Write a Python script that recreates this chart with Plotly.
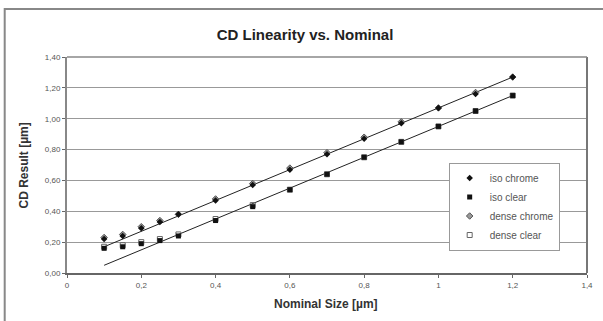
import plotly.graph_objects as go

nominal = [0.1, 0.15, 0.2, 0.25, 0.3, 0.4, 0.5, 0.6, 0.7, 0.8, 0.9, 1.0, 1.1, 1.2]
iso_chrome = [0.22, 0.24, 0.29, 0.33, 0.38, 0.47, 0.57, 0.67, 0.77, 0.87, 0.97, 1.07, 1.16, 1.27]
iso_clear = [0.16, 0.17, 0.19, 0.21, 0.24, 0.34, 0.43, 0.54, 0.64, 0.75, 0.85, 0.95, 1.05, 1.15]
dense_chrome = [0.23, 0.25, 0.30, 0.34, 0.38, 0.48, 0.58, 0.68, 0.78, 0.88, 0.98, 1.07, 1.17, 1.27]
dense_clear = [0.17, 0.18, 0.20, 0.22, 0.25, 0.35, 0.44, 0.54, 0.64, 0.75, 0.85, 0.95, 1.05, 1.15]
trend_x = [0.1, 1.2]
chrome_trend = [0.17, 1.27]
clear_trend = [0.05, 1.15]
x_ticks = [0, 0.2, 0.4, 0.6, 0.8, 1.0, 1.2, 1.4]
x_tick_labels = ["0", "0,2", "0,4", "0,6", "0,8", "1", "1,2", "1,4"]

font_family = "Liberation Sans, Arial, sans-serif"
fig = go.Figure()

fig.add_trace(go.Scatter(x=trend_x, y=chrome_trend, mode="lines", line=dict(color="#222", width=1), showlegend=False, hoverinfo="skip"))
fig.add_trace(go.Scatter(x=trend_x, y=clear_trend, mode="lines", line=dict(color="#222", width=1), showlegend=False, hoverinfo="skip"))

fig.add_trace(go.Scatter(x=nominal, y=dense_chrome, mode="markers", name="dense chrome", legendrank=3,
                         marker=dict(symbol="diamond", size=5, color="#999", line=dict(color="#555", width=1))))
fig.add_trace(go.Scatter(x=nominal, y=dense_clear, mode="markers", name="dense clear", legendrank=4,
                         marker=dict(symbol="square-open", size=5, color="#666", line=dict(width=1))))
fig.add_trace(go.Scatter(x=nominal, y=iso_chrome, mode="markers", name="iso chrome", legendrank=1,
                         marker=dict(symbol="diamond", size=5, color="#111")))
fig.add_trace(go.Scatter(x=nominal, y=iso_clear, mode="markers", name="iso clear", legendrank=2,
                         marker=dict(symbol="square", size=5, color="#111")))

fig.update_layout(
    width=603, height=321,
    margin=dict(l=67, r=10, t=57, b=48),
    paper_bgcolor="white", plot_bgcolor="white",
    separators=",.",
    font=dict(family=font_family, size=8, color="#555"),
    title=dict(text="<b>CD Linearity vs. Nominal</b>", x=305 / 603, xref="container", xanchor="center",
               y=1 - 35 / 321, yref="container", yanchor="middle",
               font=dict(size=15, color="#222", family=font_family)),
    showlegend=True,
    legend=dict(x=0.734, y=(273 - 206.5) / 216, xanchor="left", yanchor="middle", bgcolor="white",
                bordercolor="#999", borderwidth=1, font=dict(size=10, color="#555"),
                traceorder="normal", tracegroupgap=0, itemwidth=30),
    xaxis=dict(range=[0, 1.4], tickvals=x_ticks, ticktext=x_tick_labels, showgrid=False,
               showline=True, linecolor="#666", linewidth=2, ticks="outside", ticklen=3,
               tickcolor="#666", mirror=False, zeroline=False, fixedrange=True),
    yaxis=dict(range=[0, 1.4], dtick=0.2, tickformat=".2f", showgrid=True, gridcolor="#999",
               gridwidth=1, showline=True, linecolor="#888", linewidth=2, ticks="outside",
               ticklen=3, tickcolor="#666", zeroline=False, fixedrange=True),
)

# plot frame right/top
fig.add_shape(type="line", xref="paper", yref="paper", x0=1, x1=1, y0=0, y1=1, line=dict(color="#777", width=2))
fig.add_shape(type="line", xref="paper", yref="paper", x0=0, x1=1, y0=1, y1=1, line=dict(color="#888", width=1.5))
# outer chart frame
fig.add_shape(type="rect", xref="paper", yref="paper", x0=-0.1198, x1=1.1, y0=-0.4, y1=1.2222,
              line=dict(color="#888", width=2))

fig.add_annotation(text="<b>Nominal Size [µm]</b>", xref="paper", yref="paper", x=(329 - 67) / 526,
                   y=(273 - 304) / 216, showarrow=False, xanchor="center", yanchor="middle",
                   font=dict(size=12, color="#333"))
fig.add_annotation(text="<b>CD Result [µm]</b>", xref="paper", yref="paper", x=(24 - 67) / 526,
                   y=0.5, showarrow=False, textangle=-90, xanchor="center", yanchor="middle",
                   font=dict(size=12, color="#333"))

fig.write_html("out.html", config={"displayModeBar": False},
               post_script="document.body.style.margin='0';document.body.style.padding='0';")
